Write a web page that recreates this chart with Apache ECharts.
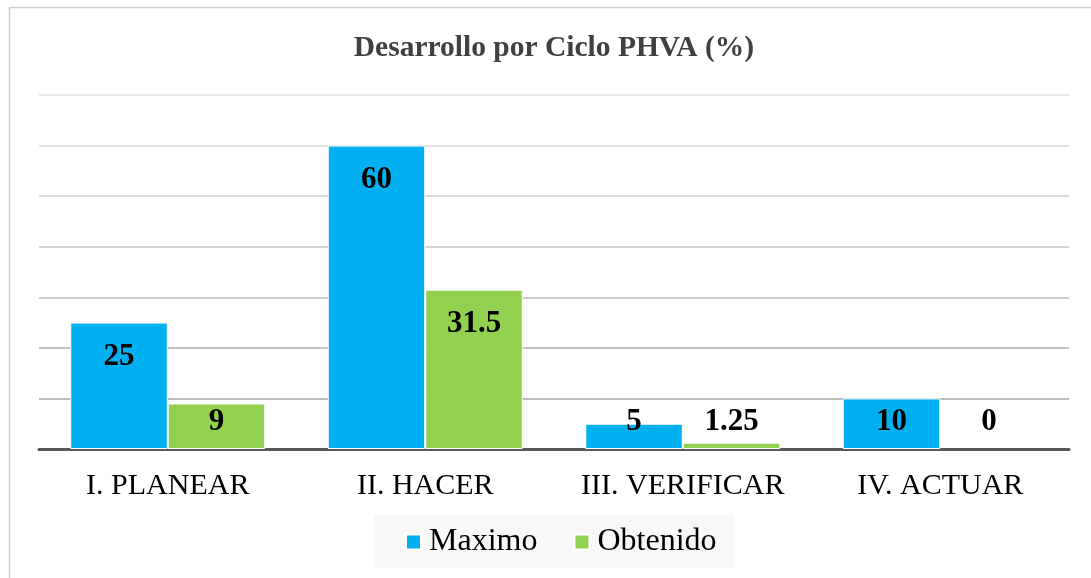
<!DOCTYPE html>
<html>
<head>
<meta charset="utf-8">
<style>
  html, body { margin: 0; padding: 0; background: #ffffff; }
  #chart { width: 1091px; height: 578px; }
</style>
<script src="https://cdn.jsdelivr.net/npm/echarts@6/dist/echarts.min.js"></script>
</head>
<body>
<div id="chart"></div>
<script>
// PHVA cycle stages and scores (%)
const categories = ['I. PLANEAR', 'II. HACER', 'III. VERIFICAR', 'IV. ACTUAR'];
const maximo = [25, 60, 5, 10];
const obtenido = [9, 31.5, 1.25, 0];
const seriesNames = ['Maximo', 'Obtenido'];

const SERIF = '"Liberation Serif", "Times New Roman", serif';

// Tall bars carry their label just inside the top; short bars keep it near the base
function withLabels(values) {
  return values.map(v => {
    const item = {
      value: v,
      label: v >= 20
        ? { position: 'insideTop', distance: 19 }
        : { position: 'insideBottom', distance: 12 }
    };
    if (v === 0) item.itemStyle = { borderWidth: 0 };
    return item;
  });
}

const labelStyle = {
  show: true,
  color: '#000000',
  fontFamily: SERIF,
  fontWeight: 'bold',
  fontSize: 31
};

const chart = echarts.init(document.getElementById('chart'), null, { renderer: 'canvas' });

chart.setOption({
  backgroundColor: '#ffffff',
  animation: false,
  graphic: [{
    type: 'rect',
    silent: true,
    shape: { x: 9.5, y: 7.5, width: 1200, height: 700 },
    style: { fill: 'none', stroke: '#d0d0d0', lineWidth: 1.5 }
  }],
  title: {
    text: 'Desarrollo por Ciclo PHVA (%)',
    left: 549,
    textAlign: 'center',
    top: 28,
    textStyle: {
      fontFamily: SERIF,
      fontWeight: 'bold',
      fontSize: 29.5,
      color: '#404040'
    }
  },
  legend: {
    data: seriesNames,
    left: 374,
    top: 515,
    padding: [11, 18, 10, 31],
    backgroundColor: '#f8f8f8',
    itemWidth: 15,
    itemHeight: 15,
    itemGap: 36,
    icon: 'rect',
    textStyle: {
      fontFamily: SERIF,
      fontSize: 32,
      color: '#000000',
      padding: [0, 0, 0, 3]
    }
  },
  grid: {
    left: 39,
    right: 22,
    top: 95,
    bottom: 129,
    containLabel: false
  },
  xAxis: {
    type: 'category',
    data: categories,
    axisTick: { show: false },
    axisLine: { lineStyle: { color: '#595959', width: 3 } },
    axisLabel: {
      interval: 0,
      margin: 22,
      fontFamily: SERIF,
      fontSize: 30,
      color: '#000000'
    }
  },
  yAxis: {
    type: 'value',
    min: 0,
    max: 70,
    interval: 10,
    axisLabel: { show: false },
    axisLine: { show: false },
    axisTick: { show: false },
    splitLine: {
      lineStyle: {
        width: 1.5,
        color: ['#a0a0a0', '#a6a6a6', '#b0b0b0', '#bcbcbc', '#c6c6c6', '#d0d0d0', '#dadada', '#e2e2e2']
      }
    }
  },
  series: [
    {
      name: seriesNames[0],
      type: 'bar',
      data: withLabels(maximo),
      barWidth: 97.5,
      barGap: '0%',
      itemStyle: { color: '#00b0f0', borderColor: '#ffffff', borderWidth: 1 },
      label: labelStyle
    },
    {
      name: seriesNames[1],
      type: 'bar',
      data: withLabels(obtenido),
      barWidth: 97.5,
      itemStyle: { color: '#92d050', borderColor: '#ffffff', borderWidth: 1 },
      label: labelStyle
    }
  ]
});
</script>
</body>
</html>
